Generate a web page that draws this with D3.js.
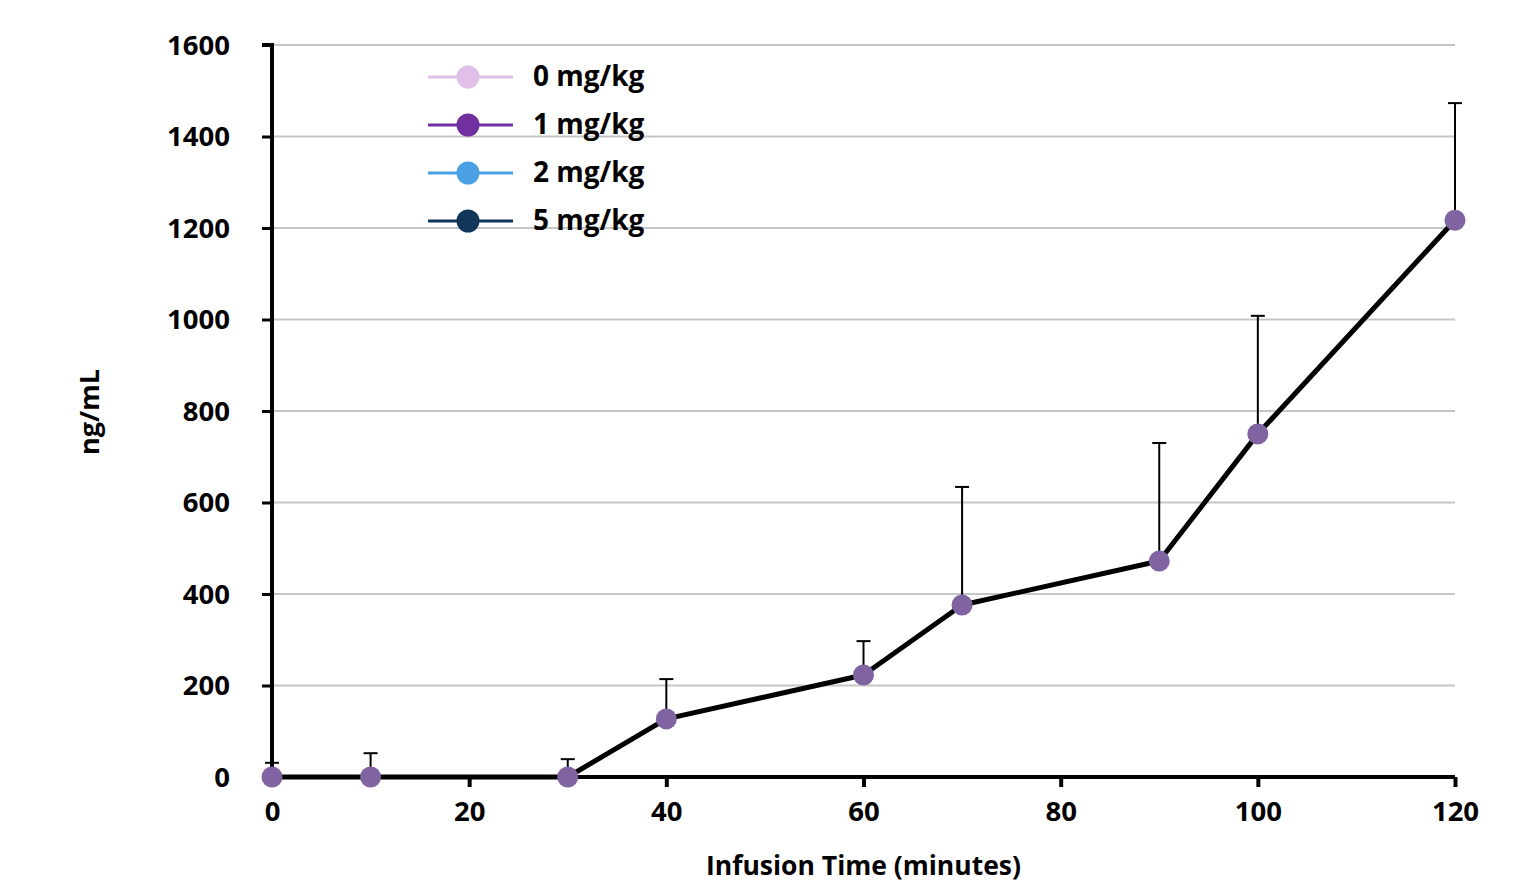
<!DOCTYPE html>
<meta charset="utf-8">
<style>
body { margin: 0; background: #fff; }
text { font-family: "Open Sans", sans-serif; font-weight: bold; fill: #000; }
.tick text { font-size: 27.5px; }
.grid line { stroke: #c6c6c6; stroke-width: 2px; }
</style>
<svg width="1519" height="883"></svg>
<script src="https://d3js.org/d3.v7.min.js"></script>
<script>

var times = [0, 10, 30, 40, 60, 70, 90, 100, 120];
var means = [0, 0, 0, 127, 223, 376, 472, 750, 1217];
var errUp = [31, 52, 39, 87, 74, 258, 258, 258, 256];
var xTicks = [0, 20, 40, 60, 80, 100, 120];
var yTicks = [0, 200, 400, 600, 800, 1000, 1200, 1400, 1600];
var legendNames = ["0 mg/kg", "1 mg/kg", "2 mg/kg", "5 mg/kg"];
var legendColors = ["#e0bfe9", "#7030a0", "#4aa0e2", "#10375a"];

var svg = d3.select("svg");

var x = d3.scaleLinear().domain([0, 120]).range([272, 1455]);
var y = d3.scaleLinear().domain([0, 1600]).range([777, 45]);

// gridlines
svg.append("g")
    .attr("class", "grid")
    .selectAll("line")
    .data(yTicks.slice(1))
    .enter().append("line")
      .attr("x1", x(0))
      .attr("x2", x(120))
      .attr("y1", function(d) { return y(d); })
      .attr("y2", function(d) { return y(d); });

// y axis
var yAxis = svg.append("g")
    .attr("transform", "translate(" + x(0) + ",0)")
    .call(d3.axisLeft(y).tickValues(yTicks).tickFormat(d3.format("d")).tickSize(10).tickPadding(32));
yAxis.select(".domain").attr("stroke", "#000").attr("stroke-width", 4).attr("d", "M-10," + y(1600) + "H0V" + y(0));
yAxis.selectAll(".tick line").attr("stroke", "#000").attr("stroke-width", 3);
yAxis.selectAll(".tick text").attr("dy", "0.34em");

// x axis
var xAxis = svg.append("g")
    .attr("transform", "translate(0," + y(0) + ")")
    .call(d3.axisBottom(x).tickValues(xTicks).tickSize(10).tickPadding(14));
xAxis.select(".domain").attr("stroke", "#000").attr("stroke-width", 4).attr("d", "M" + x(0) + ",0H" + x(120));
xAxis.selectAll(".tick line").attr("stroke", "#000").attr("stroke-width", 4);

var pts = times.map(function(t, i) { return { t: t, m: means[i], e: errUp[i] }; });

// line
svg.append("path")
    .datum(pts)
    .attr("fill", "none")
    .attr("stroke", "#000")
    .attr("stroke-width", 5)
    .attr("stroke-linejoin", "round")
    .attr("d", d3.line().x(function(d) { return x(d.t); }).y(function(d) { return y(d.m); }));

// error bars
var eb = svg.append("g").selectAll("g").data(pts).enter().append("g");
eb.append("line")
    .attr("x1", function(d) { return x(d.t); })
    .attr("x2", function(d) { return x(d.t); })
    .attr("y1", function(d) { return y(d.m); })
    .attr("y2", function(d) { return y(d.m + d.e); })
    .attr("stroke", "#000").attr("stroke-width", 2);
eb.append("line")
    .attr("x1", function(d) { return x(d.t) - 7; })
    .attr("x2", function(d) { return x(d.t) + 7; })
    .attr("y1", function(d) { return y(d.m + d.e); })
    .attr("y2", function(d) { return y(d.m + d.e); })
    .attr("stroke", "#000").attr("stroke-width", 2);

// markers
svg.append("g").selectAll("circle").data(pts).enter().append("circle")
    .attr("cx", function(d) { return x(d.t); })
    .attr("cy", function(d) { return y(d.m); })
    .attr("r", 10.5)
    .attr("fill", "#8064a2");

// error bar stems over markers
eb.append("line")
    .attr("x1", function(d) { return x(d.t); })
    .attr("x2", function(d) { return x(d.t); })
    .attr("y1", function(d) { return y(d.m); })
    .attr("y2", function(d) { return y(d.m) - 10; })
    .attr("stroke", "#000").attr("stroke-width", 2);

// legend
var leg = svg.append("g").selectAll("g").data(legendNames).enter().append("g")
    .attr("transform", function(d, i) { return "translate(0," + (77 + i * 48) + ")"; });
leg.append("line")
    .attr("x1", 428).attr("x2", 513)
    .attr("stroke", function(d, i) { return legendColors[i]; })
    .attr("stroke-width", 3);
leg.append("circle")
    .attr("cx", 468).attr("r", 11.5)
    .attr("fill", function(d, i) { return legendColors[i]; });
leg.append("text")
    .attr("x", 533).attr("dy", "0.33em")
    .style("font-size", "28px")
    .text(function(d) { return d; });

// axis titles
svg.append("text")
    .attr("x", x(60)).attr("y", 875)
    .attr("text-anchor", "middle")
    .style("font-size", "26.5px")
    .text("Infusion Time (minutes)");
svg.append("text")
    .attr("transform", "translate(99,412) rotate(-90)")
    .attr("text-anchor", "middle")
    .style("font-size", "27px")
    .text("ng/mL");

</script>
